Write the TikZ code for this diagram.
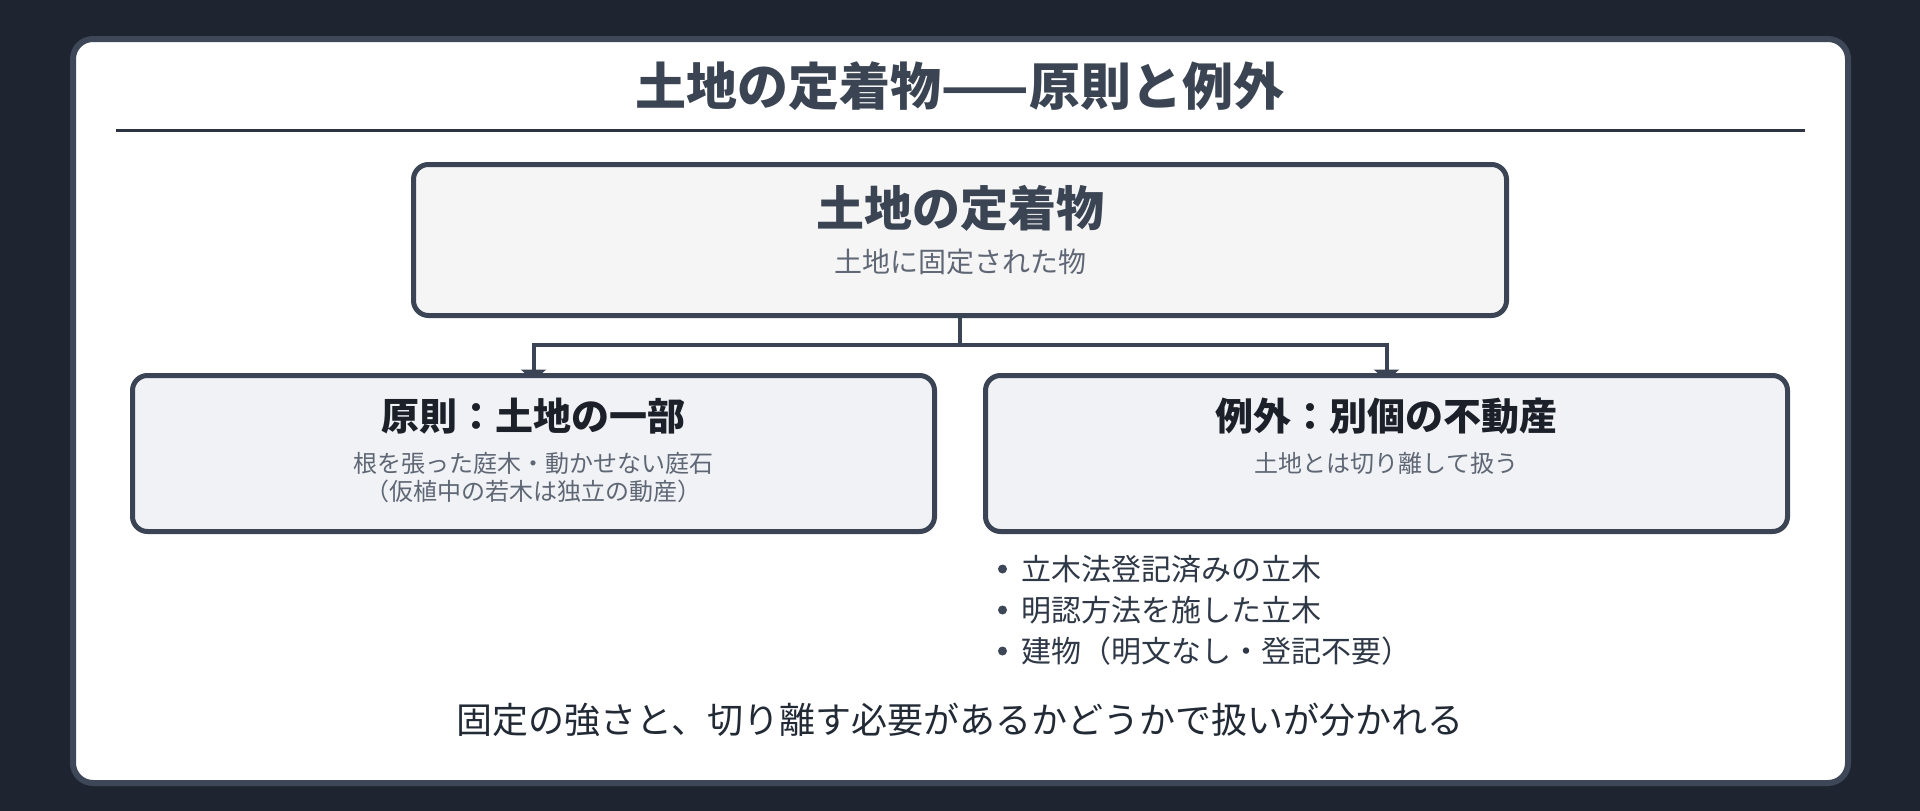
\documentclass[tikz,border=0pt]{standalone}
\usepackage{fontspec}
\setmainfont{Noto Sans CJK JP}
\usetikzlibrary{arrows.meta}
\definecolor{bgc}{HTML}{1E2530}
\definecolor{cardline}{HTML}{3D4757}
\definecolor{boxline}{HTML}{3A4454}
\definecolor{topfill}{HTML}{F5F5F6}
\definecolor{sidefill}{HTML}{F0F2F5}
\definecolor{titlec}{HTML}{3A4452}
\definecolor{darkc}{HTML}{1C2029}
\definecolor{subc}{HTML}{5F6775}
\definecolor{bulletc}{HTML}{2F3846}
\definecolor{bottomc}{HTML}{222A36}
\definecolor{rulec}{HTML}{2D3340}
\newcommand{\fs}[1]{\fontsize{#1}{#1}\selectfont}
\begin{document}
\begin{tikzpicture}[x=1pt,y=-1pt,
  boxbase/.style={draw=boxline, line width=5pt, rounded corners=15pt, inner sep=0pt, outer sep=0pt},
  topbox/.style={boxbase, fill=topfill, minimum width=1093pt, minimum height=151pt},
  sidebox/.style={boxbase, fill=sidefill, minimum width=802pt, minimum height=156pt},
  conn/.style={draw=boxline, line width=4pt, -{Triangle[width=25pt,length=11pt]}},
  txt/.style={inner sep=0pt, outer sep=0pt, anchor=center},
  bul/.style={txt, anchor=west, text=bulletc, font=\fs{30}},
  dotc/.style={circle, fill=cardline, inner sep=0pt, minimum size=9pt}
]
\fill[bgc] (0,0) rectangle (1920,811);
\useasboundingbox (0,0) rectangle (1920,811);
% card
\node[draw=cardline, fill=white, line width=6pt, rounded corners=20pt, minimum width=1775pt, minimum height=744pt, inner sep=0pt] (card) at (960.5,411) {};
% title
\node[txt, text=titlec, font=\fs{51}\bfseries] (title) at (960,86) {土地の定着物——原則と例外};
\draw[rulec, line width=2.5pt] (116,130.5) coordinate (r1) -- (1805,130.5) coordinate (r2);
% boxes placement
\coordinate (topc) at (960,240);
\coordinate (leftc) at (533.5,453.5);
\coordinate (rightc) at (1386.5,453.5);
% invisible placeholders for connectors
\node[minimum width=1093pt, minimum height=151pt, inner sep=0pt, outer sep=0pt] (top) at (topc) {};
\node[minimum width=802pt, minimum height=156pt, inner sep=0pt, outer sep=0pt] (left) at (leftc) {};
\node[minimum width=802pt, minimum height=156pt, inner sep=0pt, outer sep=0pt] (right) at (rightc) {};
% connectors
\draw[conn] (top.south) -- ++(0,29.5) -| ([yshift=-5pt]left.north);
\draw[conn] (top.south) -- ++(0,29.5) -| ([yshift=-5pt]right.north);
% boxes
\node[topbox] (topbox) at (topc) {};
\node[sidebox] (leftbox) at (leftc) {};
\node[sidebox] (rightbox) at (rightc) {};
% top box text
\node[txt, text=titlec, font=\fs{48}\bfseries] (toptitle) at (960,208) {土地の定着物};
\node[txt, text=subc, font=\fs{28}] (topsub) at (960,262) {土地に固定された物};
% left box text
\node[txt, text=darkc, font=\fs{38}\bfseries] (lefttitle) at (533.5,416) {原則：土地の一部};
\node[txt, text=subc, font=\fs{24}] (leftsub1) at (533.5,463) {根を張った庭木・動かせない庭石};
\node[txt, text=subc, font=\fs{24}] (leftsub2) at (533.5,491) {（仮植中の若木は独立の動産）};
% right box text
\node[txt, text=darkc, font=\fs{38}\bfseries] (righttitle) at (1386.5,416) {例外：別個の不動産};
\node[txt, text=subc, font=\fs{24}] (rightsub) at (1386.5,463) {土地とは切り離して扱う};
% bullets
\node[dotc] (d1) at (1002.5,569) {};
\node[dotc] (d2) at (1002.5,610) {};
\node[dotc] (d3) at (1002.5,651) {};
\node[bul] (b1) at (1021,569) {立木法登記済みの立木};
\node[bul] (b2) at (1021,610) {明認方法を施した立木};
\node[bul] (b3) at (1021,651) {建物（明文なし・登記不要）};
% bottom
\node[txt, text=bottomc, font=\fs{36}] (bottom) at (960,720) {固定の強さと、切り離す必要があるかどうかで扱いが分かれる};
\end{tikzpicture}
\end{document}
